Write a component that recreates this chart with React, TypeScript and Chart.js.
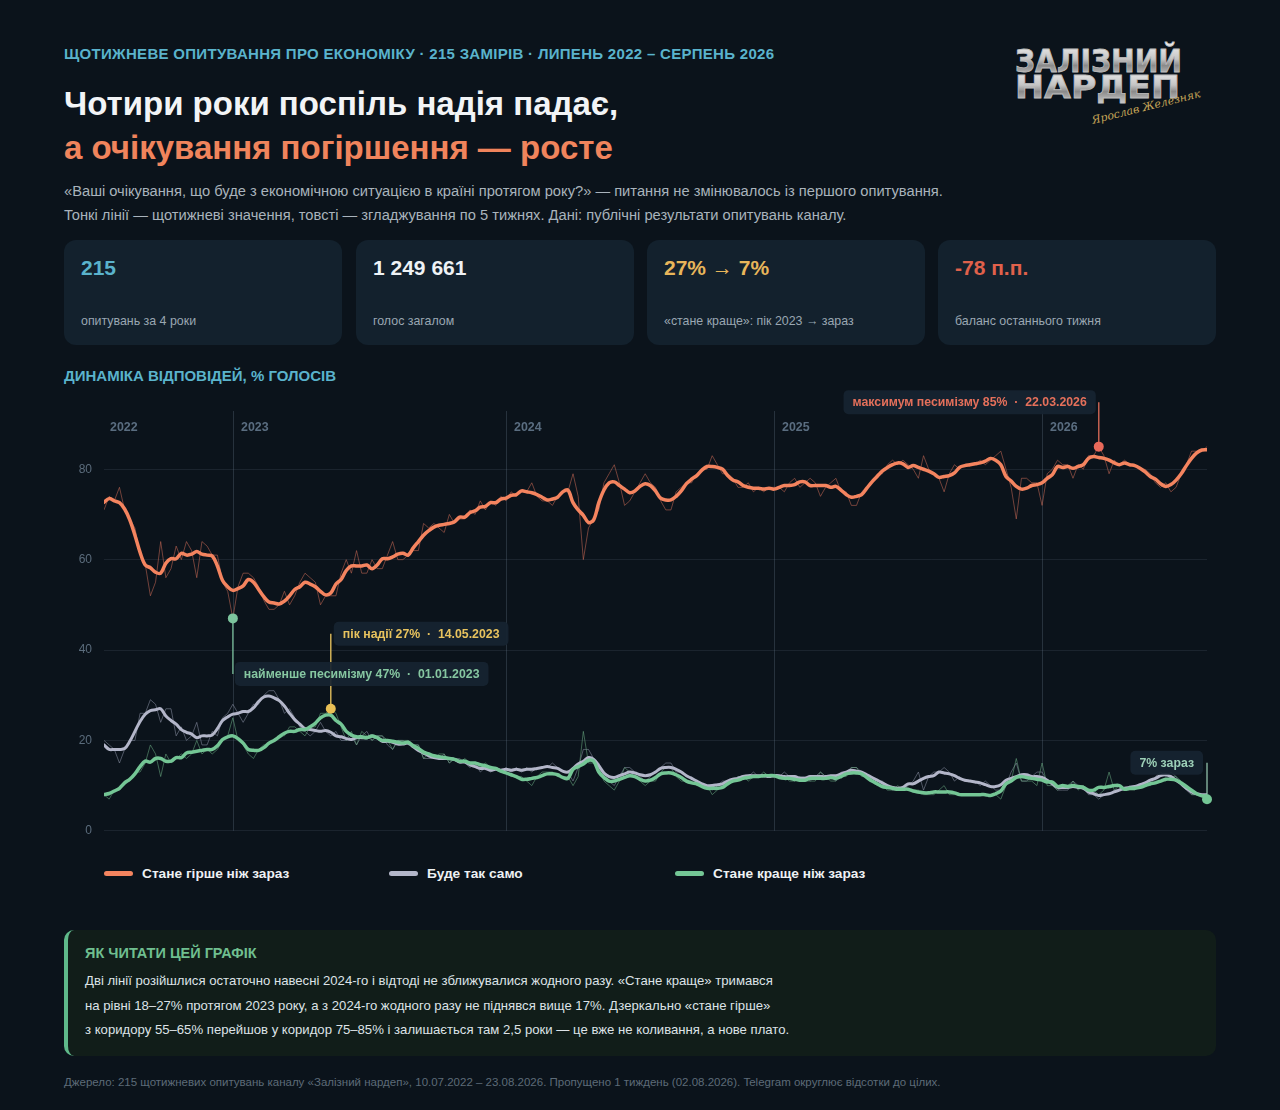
import React, { useEffect, useRef } from 'react';
import { Chart, registerables } from 'chart.js';

Chart.register(...registerables);

// ---------- DATA (weekly poll results, %) ----------
const WORSE = [
  71, 74, 73, 76, 71, 69, 67, 61, 59, 52, 55, 64, 56, 58, 63, 60, 64, 62, 56, 64,
  63, 61, 61, 55, 53, 47, 54, 57, 57, 56, 54, 51, 49, 49, 50, 53, 50, 52, 55, 57,
  56, 55, 50, 52, 52, 52, 57, 60, 57, 62, 57, 57, 60, 58, 58, 61, 64, 60, 60, 61,
  62, 62, 68, 67, 68, 67, 66, 70, 68, 69, 69, 71, 70, 73, 71, 73, 72, 74, 73, 75,
  74, 75, 75, 77, 74, 73, 73, 72, 74, 75, 75, 79, 74, 60, 67, 69, 71, 77, 79, 81,
  77, 72, 73, 75, 77, 79, 77, 76, 73, 71, 71, 75, 76, 77, 77, 79, 80, 80, 83, 81,
  79, 79, 78, 76, 76, 77, 75, 76, 75, 76, 76, 76, 75, 77, 78, 76, 77, 78, 77, 74,
  76, 77, 78, 75, 75, 72, 72, 75, 76, 77, 79, 79, 81, 82, 81, 82, 81, 80, 78, 83,
  80, 79, 78, 75, 79, 81, 80, 81, 81, 81, 82, 81, 82, 83, 84, 80, 76, 69, 78, 78,
  77, 77, 72, 79, 80, 82, 81, 81, 78, 81, 80, 83, 83, 85, 83, 79, 82, 81, 82, 81,
  81, 80, 80, 79, 77, 76, 77, 75, 76, 79, 81, 84, 84, 84, 85,
];
const SAME = [
  20, 19, 18, 15, 18, 20, 20, 26, 26, 29, 28, 24, 27, 27, 21, 23, 20, 21, 24, 19,
  19, 22, 21, 25, 26, 28, 26, 24, 26, 28, 28, 30, 31, 31, 29, 26, 27, 25, 23, 22,
  21, 22, 24, 22, 21, 22, 20, 20, 21, 19, 21, 22, 20, 21, 21, 19, 18, 20, 20, 19,
  19, 19, 16, 16, 16, 16, 17, 15, 16, 16, 15, 14, 15, 13, 14, 13, 14, 13, 14, 13,
  14, 13, 14, 13, 14, 14, 14, 15, 14, 13, 13, 11, 14, 18, 18, 16, 15, 12, 11, 10,
  12, 14, 14, 13, 12, 11, 12, 13, 14, 15, 15, 13, 13, 12, 12, 11, 10, 10, 9, 10,
  11, 11, 11, 12, 12, 12, 13, 12, 12, 12, 12, 12, 13, 12, 11, 12, 12, 11, 12, 13,
  12, 12, 11, 13, 13, 14, 14, 13, 12, 12, 11, 11, 10, 9, 9, 9, 10, 11, 13, 9,
  12, 13, 13, 14, 13, 11, 12, 11, 11, 11, 10, 11, 10, 9, 9, 10, 13, 15, 11, 11,
  12, 13, 13, 11, 10, 9, 9, 9, 11, 10, 10, 8, 8, 7, 8, 8, 9, 9, 9, 10,
  10, 10, 10, 11, 12, 13, 12, 13, 12, 10, 9, 8, 8, 8, 8,
];
const BETTER = [
  8, 7, 9, 9, 11, 11, 13, 13, 15, 19, 17, 12, 17, 15, 16, 17, 16, 17, 20, 17,
  18, 17, 18, 20, 21, 25, 20, 19, 17, 16, 18, 19, 19, 20, 21, 21, 23, 23, 22, 21,
  23, 23, 26, 26, 27, 26, 23, 20, 22, 19, 22, 21, 20, 21, 21, 20, 18, 20, 20, 20,
  19, 19, 16, 17, 16, 17, 17, 15, 16, 15, 16, 15, 15, 14, 15, 14, 14, 13, 13, 12,
  12, 12, 11, 10, 12, 13, 13, 13, 12, 12, 12, 10, 12, 22, 15, 15, 14, 11, 10, 9,
  11, 14, 13, 12, 11, 10, 11, 11, 13, 14, 14, 12, 11, 11, 11, 10, 10, 10, 8, 9,
  10, 10, 11, 12, 12, 11, 12, 12, 13, 12, 12, 12, 12, 11, 11, 12, 11, 11, 11, 13,
  12, 11, 11, 12, 12, 14, 14, 12, 12, 11, 10, 10, 9, 9, 10, 9, 9, 9, 9, 8,
  8, 8, 9, 10, 8, 8, 8, 8, 8, 8, 8, 8, 8, 8, 7, 10, 11, 16, 11, 11,
  11, 10, 15, 10, 10, 9, 10, 10, 11, 9, 10, 9, 9, 8, 9, 13, 9, 10, 9, 9,
  9, 10, 10, 10, 11, 11, 11, 12, 12, 11, 10, 8, 8, 8, 7,
];
const SERIES_NAMES = ['Стане гірше ніж зараз', 'Буде так само', 'Стане краще ніж зараз'];
const YEAR_LABELS = ['2022', '2023', '2024', '2025', '2026'];
const YEAR_INDEX = [0, 25, 78, 130, 182];
const Y_TICKS = [0, 20, 40, 60, 80];
const SMOOTH_WINDOW = 5;

const NOTES = [
  { idx: 193, series: 0, text: 'максимум песимізму 85%  ·  22.03.2026', color: '#e5705b', line: 'rgba(229,112,91,0.85)', dot: '#e8695a', side: 'left', gap: 3, dy: -44.5 },
  { idx: 44, series: 2, text: 'пік надії 27%  ·  14.05.2023', color: '#e8c35e', line: 'rgba(232,195,94,0.9)', dot: '#e9bf55', side: 'right', gap: 3, dy: -75 },
  { idx: 25, series: 0, text: 'найменше песимізму 47%  ·  01.01.2023', color: '#86c7a1', line: 'rgba(126,200,160,0.8)', dot: '#7cc49d', side: 'right', gap: 2, dy: 55.5 },
  { idx: 214, series: 2, text: '7% зараз', color: '#9ccfb7', line: 'rgba(156,207,183,0.8)', dot: '#74c695', side: 'left', gap: 4, dy: -36.5 },
];

const STATS = [
  { value: '215', label: 'опитувань за 4 роки', color: '#5ab3cc' },
  { value: '1 249 661', label: 'голос загалом', color: '#eef2f5' },
  { value: '27% → 7%', label: '«стане краще»: пік 2023 → зараз', color: '#e8b65a' },
  { value: '-78 п.п.', label: 'баланс останнього тижня', color: '#e0614b' },
];

// ---------- STYLE ----------
const FONT = '"Liberation Sans", Arial, "DejaVu Sans", sans-serif';
const BG = '#0b131b';
const C_WORSE = '#f4845f';
const C_SAME = '#b3b6c9';
const C_BETTER = '#74c695';

const smooth = (a: number[]) =>
  a.map((_, i) => {
    const h = Math.floor(SMOOTH_WINDOW / 2);
    const lo = Math.max(0, i - h);
    const hi = Math.min(a.length - 1, i + h);
    let s = 0;
    for (let k = lo; k <= hi; k++) s += a[k];
    return s / (hi - lo + 1);
  });
const pts = (a: number[]) => a.map((v, i) => ({ x: i, y: v }));

const overlayPlugin = {
  id: 'overlay',
  beforeDatasetsDraw(chart: any) {
    const { ctx, chartArea: a, scales } = chart;
    const xs = scales.x;
    ctx.save();
    YEAR_INDEX.forEach((idx, k) => {
      const px = Math.round(xs.getPixelForValue(idx)) + 0.5;
      if (idx > 0) {
        ctx.strokeStyle = 'rgba(120,140,160,0.26)';
        ctx.lineWidth = 1;
        ctx.beginPath();
        ctx.moveTo(px, a.top - 4);
        ctx.lineTo(px, a.bottom);
        ctx.stroke();
      }
      ctx.fillStyle = '#5a6d80';
      ctx.font = `bold 12.4px ${FONT}`;
      ctx.textBaseline = 'middle';
      ctx.textAlign = 'left';
      ctx.fillText(YEAR_LABELS[k], px + (idx > 0 ? 7.5 : 5.5), a.top + 13);
    });
    ctx.restore();
  },
  afterDatasetsDraw(chart: any) {
    const { ctx, scales } = chart;
    const xs = scales.x;
    const ys = scales.y;
    const all = [WORSE, SAME, BETTER];
    ctx.save();
    NOTES.forEach((n) => {
      const px = xs.getPixelForValue(n.idx);
      const py = ys.getPixelForValue(all[n.series][n.idx]);
      ctx.font = `bold 12.3px ${FONT}`;
      const tw = ctx.measureText(n.text).width;
      const bw = tw + 18;
      const bh = 24;
      const my = py + n.dy;
      const bx = n.side === 'left' ? px - n.gap - bw : px + n.gap;
      ctx.strokeStyle = n.line;
      ctx.lineWidth = 1.5;
      ctx.beginPath();
      ctx.moveTo(px, my);
      ctx.lineTo(px, py);
      ctx.stroke();
      ctx.fillStyle = 'rgba(23,36,49,0.92)';
      ctx.beginPath();
      ctx.roundRect(bx, my - bh / 2, bw, bh, 5);
      ctx.fill();
      ctx.fillStyle = n.color;
      ctx.textBaseline = 'middle';
      ctx.textAlign = 'left';
      ctx.fillText(n.text, bx + 9, my + 0.5);
      ctx.fillStyle = n.dot;
      ctx.beginPath();
      ctx.arc(px, py, 5, 0, Math.PI * 2);
      ctx.fill();
    });
    ctx.restore();
  },
};

const abs = (left: number, top: number, extra: React.CSSProperties = {}): React.CSSProperties => ({
  position: 'absolute',
  left,
  top,
  whiteSpace: 'nowrap',
  ...extra,
});

export default function App() {
  const ref = useRef<HTMLCanvasElement>(null);

  useEffect(() => {
    document.body.style.margin = '0';
    document.body.style.background = BG;
    const thick = (d: number[], c: string, w: number, order: number) => ({
      data: pts(smooth(d)),
      borderColor: c,
      borderWidth: w,
      order,
      tension: 0.35,
      borderCapStyle: 'round',
      borderJoinStyle: 'round',
      pointRadius: 0,
      fill: false,
    });
    const thin = (d: number[], c: string, order: number) => ({
      data: pts(d),
      borderColor: c,
      borderWidth: 1,
      order,
      tension: 0,
      pointRadius: 0,
      fill: false,
    });
    const chart = new Chart(ref.current as HTMLCanvasElement, {
      type: 'line',
      data: {
        datasets: [
          { label: SERIES_NAMES[2], ...thick(BETTER, C_BETTER, 3.5, 0) },
          { label: SERIES_NAMES[1], ...thick(SAME, C_SAME, 3, 1) },
          { label: SERIES_NAMES[0], ...thick(WORSE, C_WORSE, 3.5, 2) },
          { label: SERIES_NAMES[2] + ' (тиждень)', ...thin(BETTER, 'rgba(105,170,130,0.55)', 3) },
          { label: SERIES_NAMES[1] + ' (тиждень)', ...thin(SAME, 'rgba(150,155,175,0.5)', 4) },
          { label: SERIES_NAMES[0] + ' (тиждень)', ...thin(WORSE, 'rgba(200,105,85,0.55)', 5) },
        ] as any,
      },
      options: {
        animation: false,
        responsive: false,
        events: [],
        layout: { padding: { top: 25, right: 9, bottom: 16, left: 0 } },
        plugins: { legend: { display: false }, tooltip: { enabled: false } },
        scales: {
          x: { type: 'linear', min: 0, max: WORSE.length - 1, display: false },
          y: {
            min: 0,
            max: 92,
            afterBuildTicks: (s: any) => {
              s.ticks = Y_TICKS.map((v) => ({ value: v }));
            },
            afterFit: (s: any) => {
              s.width = 40;
            },
            grid: { color: 'rgba(110,130,150,0.16)', drawTicks: false, lineWidth: 1 },
            border: { display: false },
            ticks: { color: '#5b6c7c', font: { size: 12, family: FONT }, padding: 12 },
          },
        },
      } as any,
      plugins: [overlayPlugin],
    });
    return () => chart.destroy();
  }, []);

  const legendColors = [C_WORSE, C_SAME, C_BETTER];
  const legendLefts = [104, 389, 675];
  const cardLefts = [64, 356, 647, 938];

  return (
    <div
      style={{
        position: 'relative',
        width: 1280,
        height: 1110,
        background: BG,
        fontFamily: FONT,
        overflow: 'hidden',
        color: '#e8ecef',
      }}
    >
      <div style={abs(64, 45, { fontSize: 15, lineHeight: '18px', fontWeight: 700, color: '#5ab3cc', letterSpacing: 0.3 })}>
        ЩОТИЖНЕВЕ ОПИТУВАННЯ ПРО ЕКОНОМІКУ · 215 ЗАМІРІВ · ЛИПЕНЬ 2022 – СЕРПЕНЬ 2026
      </div>

      <svg style={abs(1010, 37)} width={200} height={90}>
        <defs>
          <linearGradient id="metal" x1="0" y1="0" x2="0" y2="1">
            <stop offset="0" stopColor="#f4f4f4" />
            <stop offset="0.45" stopColor="#c4c4c4" />
            <stop offset="0.62" stopColor="#8a8a8a" />
            <stop offset="1" stopColor="#dadada" />
          </linearGradient>
        </defs>
        <text x={5} y={35} fontFamily='"DejaVu Sans", sans-serif' fontWeight={700} fontSize={32} textLength={167} lengthAdjust="spacingAndGlyphs" fill="url(#metal)" stroke="#bdbdbd" strokeWidth={0.8}>
          ЗАЛІЗНИЙ
        </text>
        <text x={5} y={61} fontFamily='"DejaVu Sans", sans-serif' fontWeight={700} fontSize={32} textLength={165} lengthAdjust="spacingAndGlyphs" fill="url(#metal)" stroke="#bdbdbd" strokeWidth={0.8}>
          НАРДЕП
        </text>
        <text x={80} y={75} fontFamily='"DejaVu Serif", serif' fontStyle="italic" fontSize={11} fill="#c4a457" transform="rotate(-14 130 70)">
          Ярослав Железняк
        </text>
      </svg>

      <div style={abs(64, 82, { fontSize: 33, lineHeight: '44px', fontWeight: 700 })}>
        <div style={{ color: '#f2f4f6' }}>Чотири роки поспіль надія падає,</div>
        <div style={{ color: '#f0845c' }}>а очікування погіршення — росте</div>
      </div>

      <div style={abs(64, 179, { fontSize: 14.7, lineHeight: '24px', color: '#a9b3bc' })}>
        <div>«Ваші очікування, що буде з економічною ситуацією в країні протягом року?» — питання не змінювалось із першого опитування.</div>
        <div>Тонкі лінії — щотижневі значення, товсті — згладжування по 5 тижнях. Дані: публічні результати опитувань каналу.</div>
      </div>

      {STATS.map((s, i) => (
        <div
          key={i}
          style={abs(cardLefts[i], 240, {
            width: 278,
            height: 105,
            background: '#13212d',
            borderRadius: 12,
          })}
        >
          <div style={abs(17, 15, { fontSize: 21, lineHeight: '26px', fontWeight: 700, color: s.color })}>{s.value}</div>
          <div style={abs(17, 73, { fontSize: 12.4, lineHeight: '16px', color: '#9aa7b2' })}>{s.label}</div>
        </div>
      ))}

      <div style={abs(64, 367, { fontSize: 15, lineHeight: '18px', fontWeight: 700, color: '#5ab3cc' })}>
        ДИНАМІКА ВІДПОВІДЕЙ, % ГОЛОСІВ
      </div>

      <canvas ref={ref} width={1152} height={460} style={abs(64, 390, { width: 1152, height: 460 })} />

      {SERIES_NAMES.map((name, i) => (
        <div key={i} style={abs(legendLefts[i], 865, { height: 16, display: 'flex', alignItems: 'center' })}>
          <span style={{ display: 'inline-block', width: 29, height: 5, borderRadius: 3, background: legendColors[i], marginRight: 9 }} />
          <span style={{ fontSize: 13.7, fontWeight: 700, color: '#eef1f3' }}>{name}</span>
        </div>
      ))}

      <div
        style={abs(64, 930, {
          width: 1152,
          height: 126,
          background: '#111d19',
          borderRadius: 10,
          borderLeft: '4px solid #5fb98a',
          boxSizing: 'border-box',
        })}
      >
        <div style={abs(17, 14, { fontSize: 14.5, lineHeight: '18px', fontWeight: 700, color: '#6fbf8f' })}>ЯК ЧИТАТИ ЦЕЙ ГРАФІК</div>
        <div style={abs(17, 39, { fontSize: 13.15, lineHeight: '24.5px', color: '#dde3e7' })}>
          <div>Дві лінії розійшлися остаточно навесні 2024-го і відтоді не зближувалися жодного разу. «Стане краще» тримався</div>
          <div>на рівні 18–27% протягом 2023 року, а з 2024-го жодного разу не піднявся вище 17%. Дзеркально «стане гірше»</div>
          <div>з коридору 55–65% перейшов у коридор 75–85% і залишається там 2,5 роки — це вже не коливання, а нове плато.</div>
        </div>
      </div>

      <div style={abs(64, 1075, { fontSize: 11.5, lineHeight: '14px', color: '#5d6b78' })}>
        Джерело: 215 щотижневих опитувань каналу «Залізний нардеп», 10.07.2022 – 23.08.2026. Пропущено 1 тиждень (02.08.2026). Telegram округлює відсотки до цілих.
      </div>
    </div>
  );
}
